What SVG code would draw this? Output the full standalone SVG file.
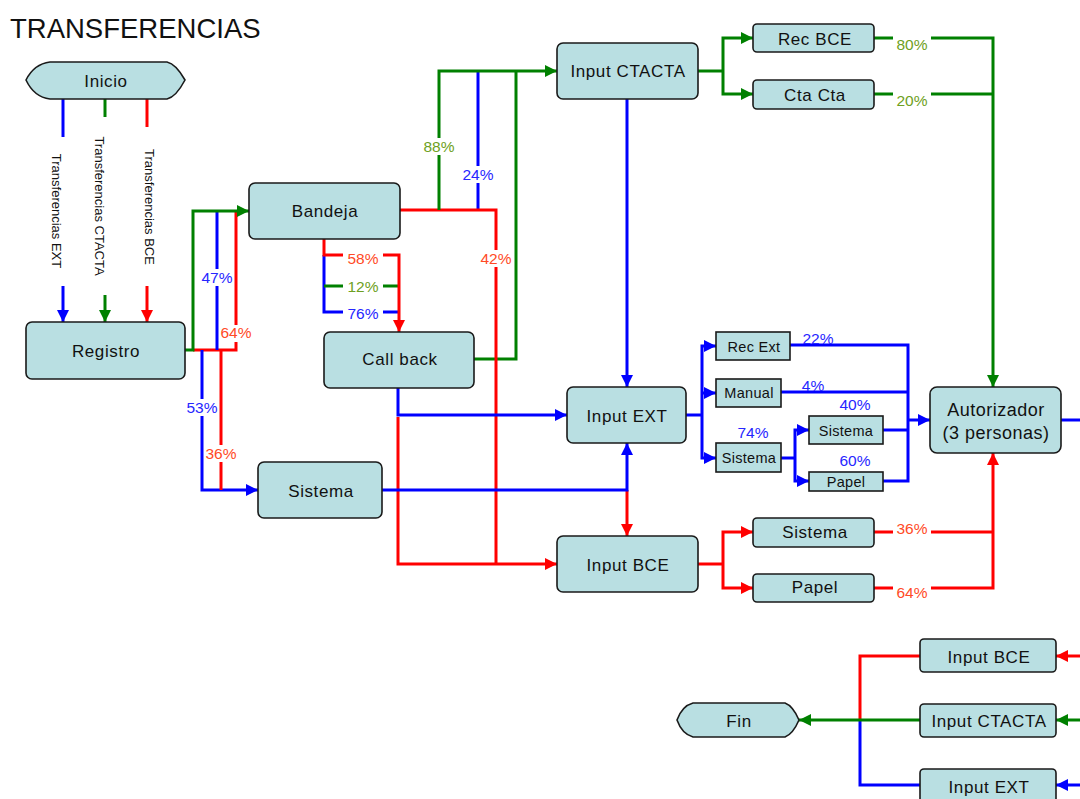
<svg xmlns="http://www.w3.org/2000/svg" width="1080" height="799" viewBox="0 0 1080 799">
  <style>
    .node { fill: #b9dfe2; stroke: #1a1a1a; stroke-width: 1.6; }
    .t { font-family: "Liberation Sans", Arial, sans-serif; fill: #111; text-anchor: middle; }
    .big { font-size: 17px; letter-spacing: 0.6px; }
    .small { font-size: 14.5px; letter-spacing: 0.3px; }
    .lb { font-family: "Liberation Sans", Arial, sans-serif; font-size: 15.5px; text-anchor: middle; }
    .lb-b { fill: #2626ff; }
    .lb-g { fill: #6e9f22; }
    .lb-r { fill: #ff4a26; }
    .bg { fill: #ffffff; }
    .c { fill: none; stroke-width: 3; stroke-linejoin: miter; }
    .b { stroke: #0000ff; }
    .g { stroke: #008000; }
    .r { stroke: #ff0000; }
    .ab { marker-end: url(#arrB); }
    .ag { marker-end: url(#arrG); }
    .ar { marker-end: url(#arrR); }
  </style>
  <defs>
    <marker id="arrB" viewBox="0 0 12 12" refX="12" refY="6" markerWidth="12" markerHeight="12" markerUnits="userSpaceOnUse" orient="auto">
      <path d="M0,0 L12,6 L0,12 Z" fill="#0000ff"/>
    </marker>
    <marker id="arrG" viewBox="0 0 12 12" refX="12" refY="6" markerWidth="12" markerHeight="12" markerUnits="userSpaceOnUse" orient="auto">
      <path d="M0,0 L12,6 L0,12 Z" fill="#008000"/>
    </marker>
    <marker id="arrR" viewBox="0 0 12 12" refX="12" refY="6" markerWidth="12" markerHeight="12" markerUnits="userSpaceOnUse" orient="auto">
      <path d="M0,0 L12,6 L0,12 Z" fill="#ff0000"/>
    </marker>
  </defs>

  <rect width="1080" height="799" fill="#ffffff"/>

  <text x="10" y="38" font-family="Liberation Sans, Arial, sans-serif" font-size="27.5" fill="#111">TRANSFERENCIAS</text>

  <!-- connectors -->
  <g id="connectors">
    <!-- start lines -->
    <path class="c b" d="M63,99 V137"/>
    <path class="c b ab" d="M63,286 V322"/>
    <path class="c g" d="M105,99 V117"/>
    <path class="c g ag" d="M105,295 V322"/>
    <path class="c r" d="M147,99 V127"/>
    <path class="c r ar" d="M147,286 V322"/>

    <!-- Registro to Bandeja / Sistema -->
    <path class="c r" d="M193,350 H236 V211"/>
    <path class="c b" d="M217,350 V211"/>
    <path class="c g ag" d="M185,350 H193 V211 H249"/>
    <path class="c b ab" d="M202,350 V490 H258"/>
    <path class="c r" d="M221,350 V490"/>

    <!-- Bandeja to Call back -->
    <path class="c b" d="M324,255 V312 H399"/>
    <path class="c g" d="M324,286 H399"/>
    <path class="c r ar" d="M324,239 V255 H399 V332"/>

    <!-- Bandeja / Call back to Input CTACTA -->
    <path class="c g" d="M474,359 H516 V71"/>
    <path class="c b" d="M478,210 V71"/>
    <path class="c r" d="M400,210 H496 V564"/>
    <path class="c g ag" d="M439,210 V71 H557"/>

    <!-- Call back to Input EXT / Input BCE -->
    <path class="c r ar" d="M398,417 V564 H557"/>
    <path class="c b ab" d="M398,388 V415 H567"/>

    <!-- Input CTACTA to Input EXT -->
    <path class="c b ab" d="M627,99 V387"/>

    <!-- Sistema to Input EXT / Input BCE -->
    <path class="c r ar" d="M627,490 V536"/>
    <path class="c b ab" d="M382,490 H627 V443"/>

    <!-- Input CTACTA branches -->
    <path class="c g" d="M698,71 H723"/>
    <path class="c g ag" d="M723,71 V38 H753"/>
    <path class="c g ag" d="M723,71 V94 H753"/>
    <path class="c g" d="M874,94 H993"/>
    <path class="c g ag" d="M874,38 H993 V387"/>

    <!-- Input EXT branches -->
    <path class="c b" d="M686,415 H702"/>
    <path class="c b ab" d="M702,415 V346 H716"/>
    <path class="c b ab" d="M702,393 H716"/>
    <path class="c b ab" d="M702,415 V458 H716"/>
    <path class="c b" d="M781,458 H795"/>
    <path class="c b ab" d="M795,458 V430 H809"/>
    <path class="c b ab" d="M795,458 V481 H809"/>
    <path class="c b" d="M790,345 H908 V481 H883"/>
    <path class="c b" d="M781,392 H908"/>
    <path class="c b" d="M883,430 H908"/>
    <path class="c b ab" d="M908,420 H930"/>
    <path class="c b" d="M1061,420 H1080"/>

    <!-- Input BCE branches -->
    <path class="c r" d="M698,564 H723"/>
    <path class="c r ar" d="M723,564 V532 H753"/>
    <path class="c r ar" d="M723,564 V588 H753"/>
    <path class="c r" d="M874,532 H993"/>
    <path class="c r ar" d="M874,588 H993 V453"/>

    <!-- closing section -->
    <path class="c r ar" d="M1080,656 H1056"/>
    <path class="c g ag" d="M1080,720 H1056"/>
    <path class="c b ab" d="M1080,785 H1056"/>
    <path class="c r" d="M920,656 H860 V720"/>
    <path class="c b" d="M920,785 H860 V720"/>
    <path class="c g ag" d="M920,720 H799"/>
  </g>

  <!-- connector labels -->
  <g id="labels">
    <g transform="translate(52,211) rotate(90)"><text class="t" font-size="13" x="0" y="0">Transferencias EXT</text></g>
    <g transform="translate(95,206) rotate(90)"><text class="t" font-size="13" x="0" y="0">Transferencias CTACTA</text></g>
    <g transform="translate(145,207) rotate(90)"><text class="t" font-size="13" x="0" y="0">Transferencias BCE</text></g>

    <rect class="bg" x="201" y="269" width="33" height="17"/>
    <text class="lb lb-b" x="217" y="283">47%</text>
    <rect class="bg" x="220" y="325" width="33" height="17"/>
    <text class="lb lb-r" x="236" y="338">64%</text>
    <rect class="bg" x="186" y="399" width="33" height="17"/>
    <text class="lb lb-b" x="202" y="413">53%</text>
    <rect class="bg" x="205" y="445" width="33" height="17"/>
    <text class="lb lb-r" x="221" y="459">36%</text>

    <rect class="bg" x="343" y="249" width="40" height="17"/>
    <text class="lb lb-r" x="363" y="264">58%</text>
    <rect class="bg" x="343" y="278" width="40" height="17"/>
    <text class="lb lb-g" x="363" y="292">12%</text>
    <rect class="bg" x="343" y="305" width="40" height="17"/>
    <text class="lb lb-b" x="363" y="319">76%</text>

    <rect class="bg" x="422" y="138" width="34" height="17"/>
    <text class="lb lb-g" x="439" y="152">88%</text>
    <rect class="bg" x="461" y="166" width="34" height="17"/>
    <text class="lb lb-b" x="478" y="180">24%</text>
    <rect class="bg" x="479" y="250" width="34" height="17"/>
    <text class="lb lb-r" x="496" y="264">42%</text>

    <rect class="bg" x="893" y="30" width="38" height="24"/>
    <text class="lb lb-g" x="912" y="50">80%</text>
    <rect class="bg" x="893" y="86" width="38" height="24"/>
    <text class="lb lb-g" x="912" y="106">20%</text>

    <text class="lb lb-b" x="818" y="344">22%</text>
    <text class="lb lb-b" x="813" y="391">4%</text>
    <text class="lb lb-b" x="855" y="410">40%</text>
    <text class="lb lb-b" x="753" y="438">74%</text>
    <text class="lb lb-b" x="855" y="466">60%</text>

    <rect class="bg" x="893" y="520" width="38" height="20"/>
    <text class="lb lb-r" x="912" y="534">36%</text>
    <rect class="bg" x="893" y="580" width="38" height="22"/>
    <text class="lb lb-r" x="912" y="598">64%</text>
  </g>

  <!-- nodes -->
  <g id="inicio">
    <path class="node" d="M50,62 H167 Q176,64 185,80 Q176,97 167,99 H50 Q34,97 26,80 Q34,64 50,62 Z"/>
    <text class="t big" x="106" y="87">Inicio</text>
  </g>
  <g id="registro">
    <rect class="node" x="26" y="322" width="159" height="57" rx="6"/>
    <text class="t big" x="106" y="357">Registro</text>
  </g>
  <g id="bandeja">
    <rect class="node" x="249" y="183" width="151" height="56" rx="6"/>
    <text class="t big" x="325" y="217">Bandeja</text>
  </g>
  <g id="callback">
    <rect class="node" x="324" y="332" width="150" height="56" rx="6"/>
    <text class="t big" x="400" y="365">Call back</text>
  </g>
  <g id="sistema-registro">
    <rect class="node" x="258" y="462" width="124" height="56" rx="6"/>
    <text class="t big" x="321" y="497">Sistema</text>
  </g>
  <g id="input-ctacta">
    <rect class="node" x="557" y="43" width="141" height="56" rx="6"/>
    <text class="t big" x="628" y="77">Input CTACTA</text>
  </g>
  <g id="input-ext">
    <rect class="node" x="567" y="387" width="119" height="56" rx="6"/>
    <text class="t big" x="627" y="422">Input EXT</text>
  </g>
  <g id="input-bce">
    <rect class="node" x="557" y="536" width="141" height="56" rx="6"/>
    <text class="t big" x="628" y="571">Input BCE</text>
  </g>
  <g id="rec-bce">
    <rect class="node" x="753" y="24" width="121" height="28" rx="4"/>
    <text class="t big" x="815" y="45">Rec BCE</text>
  </g>
  <g id="cta-cta">
    <rect class="node" x="753" y="80" width="121" height="29" rx="4"/>
    <text class="t big" x="815" y="101">Cta Cta</text>
  </g>
  <g id="rec-ext">
    <rect class="node" x="716" y="332" width="74" height="28"/>
    <text class="t small" x="754" y="352">Rec Ext</text>
  </g>
  <g id="manual">
    <rect class="node" x="716" y="379" width="65" height="28"/>
    <text class="t small" x="749" y="398">Manual</text>
  </g>
  <g id="sistema-ext">
    <rect class="node" x="716" y="443" width="65" height="29"/>
    <text class="t small" x="749" y="463">Sistema</text>
  </g>
  <g id="sistema-ext-2">
    <rect class="node" x="809" y="416" width="74" height="28"/>
    <text class="t small" x="846" y="436">Sistema</text>
  </g>
  <g id="papel-ext">
    <rect class="node" x="809" y="472" width="74" height="19"/>
    <text class="t small" x="846" y="487">Papel</text>
  </g>
  <g id="autorizador">
    <rect class="node" x="930" y="387" width="131" height="66" rx="7"/>
    <text class="t" font-size="18" letter-spacing="0.5" x="996" y="416">Autorizador</text>
    <text class="t" font-size="18" letter-spacing="0.5" x="996" y="439">(3 personas)</text>
  </g>
  <g id="sistema-bce">
    <rect class="node" x="753" y="518" width="121" height="29" rx="4"/>
    <text class="t big" x="815" y="538">Sistema</text>
  </g>
  <g id="papel-bce">
    <rect class="node" x="753" y="574" width="121" height="28" rx="4"/>
    <text class="t big" x="815" y="593">Papel</text>
  </g>
  <g id="fin-input-bce">
    <rect class="node" x="920" y="639" width="136" height="33" rx="4"/>
    <text class="t big" x="989" y="663">Input BCE</text>
  </g>
  <g id="fin-input-ctacta">
    <rect class="node" x="920" y="704" width="136" height="33" rx="4"/>
    <text class="t big" x="989" y="727">Input CTACTA</text>
  </g>
  <g id="fin-input-ext">
    <rect class="node" x="920" y="769" width="136" height="36" rx="4"/>
    <text class="t big" x="989" y="793">Input EXT</text>
  </g>
  <g id="fin">
    <path class="node" d="M693,703 H785 Q793,706 799,720 Q793,734 785,737 H693 Q682,734 677,720 Q682,706 693,703 Z"/>
    <text class="t big" x="739" y="727">Fin</text>
  </g>
</svg>
